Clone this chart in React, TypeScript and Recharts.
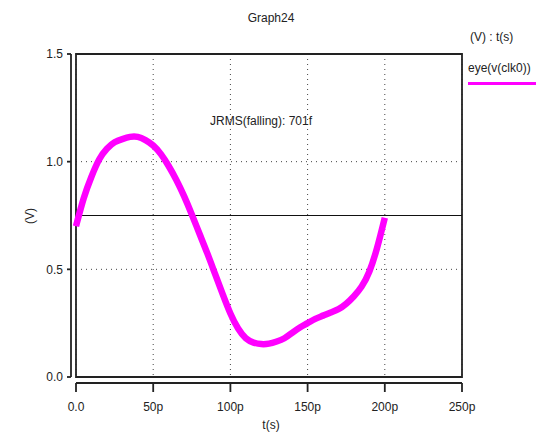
import React from "react";
import {
  LineChart,
  Line,
  XAxis,
  YAxis,
  CartesianGrid,
  ReferenceLine,
  ReferenceArea,
} from "recharts";

// time in ps
const times = [
  0, 5, 10, 15, 20, 25, 30, 35, 40, 45, 50, 55, 60, 65, 70, 75, 80, 85, 90, 95,
  100, 105, 110, 115, 120, 125, 130, 135, 140, 145, 150, 155, 160, 165, 170,
  175, 180, 185, 190, 195, 200,
];
// eye(v(clk0)) in V
const voltages = [
  0.7, 0.83, 0.93, 1.01, 1.06, 1.09, 1.105, 1.115, 1.115, 1.1, 1.075, 1.035,
  0.98, 0.915, 0.84, 0.755, 0.665, 0.575, 0.48, 0.385, 0.295, 0.225, 0.18,
  0.16, 0.153, 0.155, 0.165, 0.18, 0.205, 0.23, 0.25, 0.27, 0.285, 0.3, 0.315,
  0.34, 0.375, 0.42, 0.49, 0.6, 0.74,
];
const xTicks = [0, 50, 100, 150, 200, 250];
const xTickLabels = ["0.0", "50p", "100p", "150p", "200p", "250p"];
const yTicks = [0, 0.5, 1.0, 1.5];
const threshold = 0.75;

const data = times.map((t, i) => ({ t, v: voltages[i] }));

const font = "'Liberation Sans', Arial, sans-serif";
const txt: React.CSSProperties = {
  position: "absolute",
  fontFamily: font,
  fontSize: 12,
  color: "#222",
  whiteSpace: "nowrap",
  lineHeight: "14px",
};

export default function App() {
  return (
    <div
      style={{
        position: "absolute",
        left: 0,
        top: 0,
        width: 542,
        height: 436,
        background: "#fff",
      }}
    >
      <LineChart
        width={542}
        height={436}
        data={data}
        margin={{ top: 54, right: 80, bottom: 19, left: 0 }}
      >
        <CartesianGrid stroke="#444" strokeDasharray="1 4" />
        <ReferenceArea
          x1={0}
          x2={250}
          y1={0}
          y2={1.5}
          fill="none"
          stroke="#222"
          strokeWidth={1.8}
          fillOpacity={0}
        />
        <XAxis
          dataKey="t"
          type="number"
          domain={[0, 250]}
          ticks={xTicks}
          tickFormatter={(v: number) => xTickLabels[xTicks.indexOf(v)]}
          height={40}
          tickSize={9}
          tickMargin={16}
          axisLine={{ stroke: "#222", strokeWidth: 1.8, transform: "translate(0,6)" }}
          tickLine={{ stroke: "#222", strokeWidth: 1.8, transform: "translate(0,6)" }}
          tick={{ fill: "#222", fontSize: 12, fontFamily: font }}
          interval={0}
        />
        <YAxis
          type="number"
          domain={[0, 1.5]}
          ticks={yTicks}
          tickFormatter={(v: number) => v.toFixed(1)}
          width={76}
          tickSize={4}
          tickMargin={9}
          axisLine={{ stroke: "#222", strokeWidth: 1.8, transform: "translate(-5,0)" }}
          tickLine={{ stroke: "#222", strokeWidth: 1.8, transform: "translate(-5,0)" }}
          tick={{ fill: "#222", fontSize: 12, fontFamily: font }}
          interval={0}
        />
        <ReferenceLine y={threshold} stroke="#111" strokeWidth={1.2} />
        <Line
          dataKey="v"
          type="natural"
          stroke="#ff00ff"
          strokeWidth={6.5}
          dot={false}
          isAnimationActive={false}
        />
      </LineChart>
      <div style={{ ...txt, left: 0, width: 542, top: 11, textAlign: "center" }}>
        Graph24
      </div>
      <div style={{ ...txt, left: 470, top: 30 }}>(V) : t(s)</div>
      <div style={{ ...txt, left: 468, top: 61 }}>eye(v(clk0))</div>
      <div
        style={{
          position: "absolute",
          left: 468,
          top: 82,
          width: 68,
          height: 2.5,
          background: "#ff00ff",
        }}
      />
      <div style={{ ...txt, left: 210, top: 114 }}>JRMS(falling): 701f</div>
      <div style={{ ...txt, left: 0, width: 542, top: 418, textAlign: "center" }}>
        t(s)
      </div>
      <div
        style={{
          ...txt,
          left: 22,
          top: 209,
          transform: "rotate(-90deg)",
        }}
      >
        (V)
      </div>
    </div>
  );
}
